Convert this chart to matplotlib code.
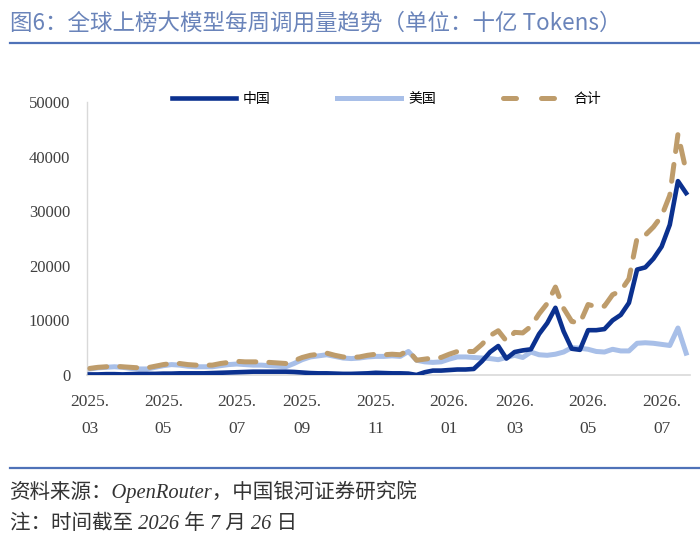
import matplotlib
matplotlib.use("Agg")
import matplotlib.pyplot as plt
from matplotlib.lines import Line2D
import numpy as np

# weekly series, 2025-03 .. 2026-07-26 (unit: 十亿 Tokens)
china = [100, 100, 150, 150, 100, 150, 200, 200, 200, 250,
         250, 300, 300, 300, 300, 350, 400, 450, 500, 550,
         600, 600, 600, 600, 600, 550, 450, 350, 300, 300,
         250, 200, 200, 250, 300, 400, 350, 300, 300, 250,
         0, 500, 800, 800, 900, 1000, 1000, 1100, 2500, 4200,
         5300, 3000, 4200, 4500, 4700, 7500, 9500, 12300, 8000, 4800,
         4600, 8200, 8200, 8400, 10000, 11000, 13200, 19300, 19700, 21300,
         23500, 27500, 35500, 33300]
usa = [1100, 1300, 1400, 1500, 1400, 1200, 1100, 1100, 1400, 1700,
       1900, 1800, 1600, 1500, 1500, 1500, 1700, 1900, 2000, 1900,
       1800, 1800, 1700, 1600, 1500, 2100, 2800, 3300, 3500, 3700,
       3400, 3100, 3000, 3100, 3300, 3400, 3400, 3500, 3400, 4300,
       2700, 2400, 2300, 2400, 2900, 3300, 3300, 3200, 3100, 3000,
       2800, 3200, 3600, 3200, 4200, 3700, 3600, 3800, 4200, 5000,
       4900, 4700, 4300, 4200, 4700, 4400, 4400, 5800, 5900, 5800,
       5600, 5400, 8600, 4000]
total = [1200, 1400, 1500, 1600, 1500, 1400, 1300, 1300, 1600, 1900,
         2100, 2100, 1900, 1800, 1800, 1800, 2100, 2300, 2500, 2400,
         2400, 2400, 2300, 2200, 2100, 2600, 3200, 3600, 3800, 4000,
         3600, 3300, 3200, 3300, 3600, 3800, 3700, 3800, 3700, 4500,
         2700, 2900, 3100, 3200, 3800, 4300, 4300, 4300, 5600, 7200,
         8100, 6200, 7800, 7700, 8900, 11200, 13100, 16100, 12200, 9800,
         9500, 12900, 12500, 12600, 14700, 15400, 17600, 25100, 25600, 27100,
         29100, 32900, 44100, 37300]

tick_idx = [0, 9, 18, 26, 35, 44, 52, 61, 70]
tick_labels = ["2025.\n03", "2025.\n05", "2025.\n07", "2025.\n09", "2025.\n11",
               "2026.\n01", "2026.\n03", "2026.\n05", "2026.\n07"]
yticks = [0, 10000, 20000, 30000, 40000, 50000]

C_CN = "#0B318F"
C_US = "#A8BFE8"
C_TOT = "#BE9C6B"
CJK = ["Noto Sans CJK SC", "DejaVu Sans"]
SERIF = ["Liberation Serif", "Noto Sans CJK SC"]

fig = plt.figure(figsize=(7.0, 5.45), dpi=100)
ax = fig.add_axes([0.124, 0.312, 0.862, 0.501])

x = np.arange(len(china))
ax.plot(x, china, color=C_CN, linewidth=3.3, zorder=3)
ax.plot(x, usa, color=C_US, linewidth=3.6, zorder=2)
ax.plot(x, total, color=C_TOT, linewidth=3.6, dashes=(3.4, 2.6),
        dash_capstyle="round", zorder=4)

ax.set_xlim(-0.37, 73.5)
ax.set_ylim(0, 50000)
ax.set_yticks(yticks)
ax.set_yticklabels([str(v) for v in yticks], fontfamily=SERIF, fontsize=12,
                   color="#404040")
ax.set_xticks(tick_idx)
ax.set_xticklabels(tick_labels, fontfamily=SERIF, fontsize=12.5, color="#404040",
                   linespacing=1.85)
ax.tick_params(axis="both", length=0)
ax.tick_params(axis="y", pad=12)
ax.tick_params(axis="x", pad=14)
for s in ("top", "right"):
    ax.spines[s].set_visible(False)
ax.spines["left"].set_color("#D9D9D9")
ax.spines["bottom"].set_color("#D9D9D9")
ax.spines["left"].set_linewidth(1.0)
ax.spines["bottom"].set_linewidth(1.2)

handles = [Line2D([], [], color=C_CN, linewidth=3.3),
           Line2D([], [], color=C_US, linewidth=3.6),
           Line2D([], [], color=C_TOT, linewidth=3.6, dashes=(2.6, 5.0),
                  dash_capstyle="round")]
ax.legend(handles, ["中国", "美国", "合计"], ncol=3, frameon=False,
          loc="center", bbox_to_anchor=(0.497, 1.01), handlelength=4.6,
          handletextpad=0.5, columnspacing=4.8,
          prop={"family": CJK, "size": 10})

# title + rules
fig.text(0.014, 0.958, "图6：全球上榜大模型每周调用量趋势（单位：十亿 Tokens）",
         fontfamily=CJK, fontsize=16.2, color="#6A84BA", va="center")
fig.add_artist(Line2D([0.014, 1.0], [0.921, 0.921], color="#4F72B8", linewidth=1.6))
fig.add_artist(Line2D([0.014, 1.0], [0.141, 0.141], color="#4F72B8", linewidth=1.6))

fig.text(0.014, 0.097, "资料来源：OpenRouter，中国银河证券研究院",
         fontfamily=SERIF, style="italic", fontsize=14.8, color="#333333", va="center")
fig.text(0.014, 0.038, "注：时间截至 2026 年 7 月 26 日",
         fontfamily=SERIF, style="italic", fontsize=14.8, color="#333333", va="center")

fig.savefig("out.png", dpi=100, facecolor="white")
plt.close(fig)
